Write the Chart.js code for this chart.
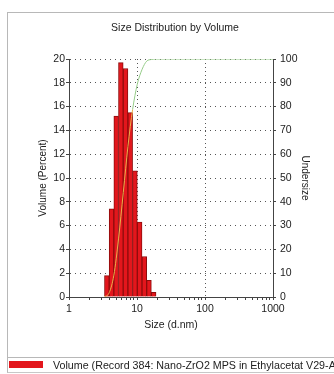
<!DOCTYPE html>
<html>
<head>
<meta charset="utf-8">
<script src="https://cdn.jsdelivr.net/npm/chart.js@4"></script>
<style>
  html, body { margin: 0; padding: 0; background: #fff; overflow: hidden; }
  #wrap { position: relative; width: 334px; height: 374px; overflow: hidden; }
  #chart { position: absolute; left: 0; top: 0; }
  #frame { position: absolute; left: 7px; top: 12px; width: 400px; height: 344px; border: 1px solid #b8b8b8; pointer-events: none; }
  #legend { position: absolute; left: 7px; top: 358px; width: 400px; height: 14px; border-left: 1px solid #b8b8b8; border-bottom: 1px solid #c8c8c8;
            font: 10.7px "Liberation Sans", Arial, sans-serif; color: #222; white-space: nowrap; }
  #legend .sw { position: absolute; left: 1px; top: 3px; width: 34px; height: 7px; background: #e3161c; }
  #legend .t { position: absolute; left: 45px; top: 0; line-height: 14px; }
</style>
</head>
<body>
<div id="wrap">
  <canvas id="chart" width="334" height="356"></canvas>
  <div id="frame"></div>
  <div id="legend"><div class="sw"></div><span class="t">Volume (Record 384: Nano-ZrO2 MPS in Ethylacetat V29-A)</span></div>
</div>
<script>
// Histogram bins (bin centre, d.nm) and volume percent
const sizes = [3.60, 4.22, 4.94, 5.78, 6.79, 7.96, 9.32, 10.95, 12.82, 15.02, 17.59];
const volume = [1.8, 7.4, 15.2, 19.7, 19.2, 15.5, 10.6, 6.3, 3.4, 1.4, 0.4];

// Cumulative undersize curve (bin edges, d.nm)
const cumSizes = [3.32, 3.90, 4.57, 5.35, 6.29, 7.36, 8.62, 10.1, 11.9, 13.9, 16.3, 19.1, 1000];
const undersize = [0, 1.8, 9.2, 24.4, 44.0, 63.3, 78.8, 89.4, 95.7, 99.1, 99.8, 100, 100];

// Axis ticks
const decades = [1, 10, 100];
const significands = [1, 2, 3, 4, 5, 6, 7, 8, 9];
const xLabels = [1, 10, 100, 1000];
const xGridAt = [10, 100];
const yLeftLabels = [0, 2, 4, 6, 8, 10, 12, 14, 16, 18, 20];
const yRightLabels = [0, 10, 20, 30, 40, 50, 60, 70, 80, 90, 100];

const xTicks = [];
decades.forEach(d => significands.forEach(s => xTicks.push(d * s)));
xTicks.push(1000);

const FONT = '"Liberation Sans", Arial, sans-serif';
const TXT = '#222';
const AXIS = '#444';
const DOT = '#555';
const NONE = 'rgba(0,0,0,0)';

new Chart(document.getElementById('chart'), {
  type: 'bar',
  data: {
    datasets: [{
      type: 'line',
      label: 'Undersize',
      data: cumSizes.map((x, i) => ({ x: x, y: undersize[i] })),
      yAxisID: 'y2',
      borderColor: '#95cc88',
      borderWidth: 1,
      pointRadius: 0,
      cubicInterpolationMode: 'monotone',
      segment: {
        borderColor: c => c.p1.parsed.x <= 8.7 ? '#e9b24a' : undefined
      },
      order: 0
    }, {
      label: 'Volume',
      data: sizes.map((x, i) => ({ x: x, y: volume[i] })),
      yAxisID: 'y',
      backgroundColor: '#e3161c',
      borderColor: '#8e0d0d',
      borderWidth: 1,
      borderSkipped: 'bottom',
      barThickness: 'flex',
      barPercentage: 1,
      categoryPercentage: 1,
      order: 1
    }]
  },
  options: {
    responsive: false,
    animation: false,
    layout: { padding: { left: 16, right: 0, top: 0, bottom: 0 } },
    plugins: {
      legend: { display: false },
      tooltip: { enabled: false },
      title: {
        display: true,
        text: 'Size Distribution by Volume',
        color: TXT,
        font: { family: FONT, size: 10.5, weight: 'normal' },
        padding: { top: 22, bottom: 24.4 }
      }
    },
    scales: {
      x: {
        type: 'logarithmic',
        min: 1,
        max: 1000,
        offset: false,
        afterBuildTicks: s => { s.ticks = xTicks.map(v => ({ value: v })); },
        afterFit: s => { s.height = 59; },
        ticks: {
          autoSkip: false,
          maxRotation: 0,
          padding: 3,
          color: TXT,
          font: { family: FONT, size: 10.5 },
          callback: v => xLabels.includes(v) ? String(v) : ''
        },
        grid: {
          offset: false,
          color: c => xGridAt.includes(c.tick.value) ? DOT : NONE,
          tickColor: AXIS,
          tickBorderDash: [],
          tickLength: 3
        },
        border: { color: AXIS, dash: [1, 3] },
        title: {
          display: true,
          text: 'Size (d.nm)',
          color: TXT,
          font: { family: FONT, size: 10.5 },
          padding: { top: 0, bottom: 25 }
        }
      },
      y: {
        position: 'left',
        min: 0,
        max: 20,
        afterFit: s => { s.width = 53; },
        ticks: {
          stepSize: 1,
          padding: 1,
          color: TXT,
          font: { family: FONT, size: 10.5 },
          callback: v => yLeftLabels.includes(v) ? String(v) : ''
        },
        grid: {
          color: c => (yLeftLabels.includes(c.tick.value) && c.tick.value !== 0) ? DOT : NONE,
          tickColor: AXIS,
          tickBorderDash: [],
          tickLength: 3
        },
        border: { color: AXIS, dash: [1, 4] },
        title: {
          display: true,
          text: 'Volume (Percent)',
          color: TXT,
          font: { family: FONT, size: 10 },
          padding: { top: 21, bottom: 0 }
        }
      },
      y2: {
        position: 'right',
        min: 0,
        max: 100,
        afterFit: s => { s.width = 61; },
        ticks: {
          stepSize: 5,
          padding: 4,
          color: TXT,
          font: { family: FONT, size: 10.5 },
          callback: v => yRightLabels.includes(v) ? String(v) : ''
        },
        grid: {
          drawOnChartArea: false,
          color: AXIS,
          tickLength: 3
        },
        border: { color: AXIS },
        title: {
          display: true,
          text: 'Undersize',
          color: TXT,
          font: { family: FONT, size: 10 },
          padding: { top: 23, bottom: 0 }
        }
      }
    }
  }
});
</script>
</body>
</html>
